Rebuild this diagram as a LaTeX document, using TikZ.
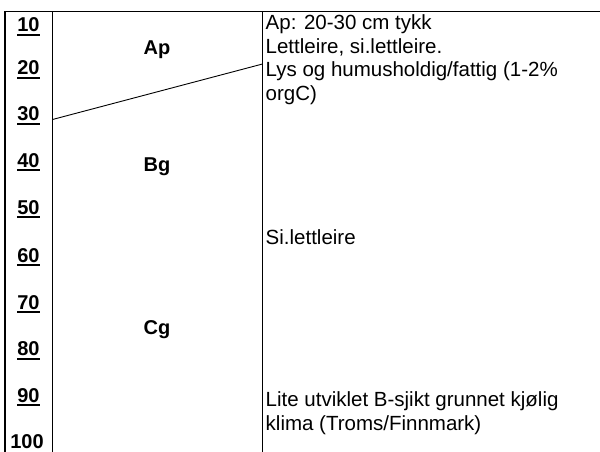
\documentclass[tikz,border=0pt]{standalone}
\usepackage{fontspec}
\setmainfont{Liberation Sans}
\begin{document}
\begin{tikzpicture}[x=1pt,y=-1pt,
  gridline/.style={line width=1.2pt},
  boundary/.style={line width=0.9pt},
  depthlbl/.style={font=\bfseries\fontsize{20}{24}\selectfont, inner sep=0pt, anchor=base},
  horlbl/.style={font=\bfseries\fontsize{20}{24}\selectfont, inner sep=0pt, anchor=base},
  desc/.style={font=\fontsize{20.5}{23.5}\selectfont, inner sep=0pt, anchor=base west},
  uline/.style={line width=2pt}]
\useasboundingbox (0,0) rectangle (600,452);
% frame
\coordinate (tl) at (5,11.5);
\coordinate (tr) at (600,11.5);
\coordinate (bl) at (5,452);
\coordinate (c1t) at (52.5,11.5);
\coordinate (c1b) at (52.5,452);
\coordinate (c2t) at (262.5,11.5);
\coordinate (c2b) at (262.5,452);
\draw[gridline] (tr) -- (tl) -- (bl);
\draw[gridline] (c1t) -- (c1b);
\draw[gridline] (c2t) -- (c2b);
% horizon boundary
\coordinate (b1) at (52.5,119.5);
\coordinate (b2) at (262.5,64);
\draw[boundary] (b1) -- (b2);
% depth labels
\foreach \v/\y in {10/32,20/74.5,30/120.5,40/167,50/214,60/262,70/309,80/355.5,90/402}{
  \node[depthlbl] (d\v) at (28.5,\y) {\v};
  \draw[uline] ([yshift=-3.2pt]d\v.base west) -- ([yshift=-3.2pt]d\v.base east);
}
\node[depthlbl] (d100) at (27,448.5) {100};
% horizon labels
\node[horlbl] (ap) at (157,55) {Ap};
\node[horlbl] (bg) at (157,171.5) {Bg};
\node[horlbl] (cg) at (157,334.5) {Cg};
% descriptions
\node[desc] (t1) at (265.5,30) {Ap: 20-30 cm tykk};
\node[desc] (t2) at (265.5,53.5) {Lettleire, si.lettleire.};
\node[desc] (t3) at (265.5,77) {Lys og humusholdig/fattig (1-2\%};
\node[desc] (t4) at (265.5,100.5) {orgC)};
\node[desc] (t5) at (265.5,244) {Si.lettleire};
\node[desc] (t6) at (265.5,406.5) {Lite utviklet B-sjikt grunnet kjølig};
\node[desc] (t7) at (265.5,430) {klima (Troms/Finnmark)};
\end{tikzpicture}
\end{document}
